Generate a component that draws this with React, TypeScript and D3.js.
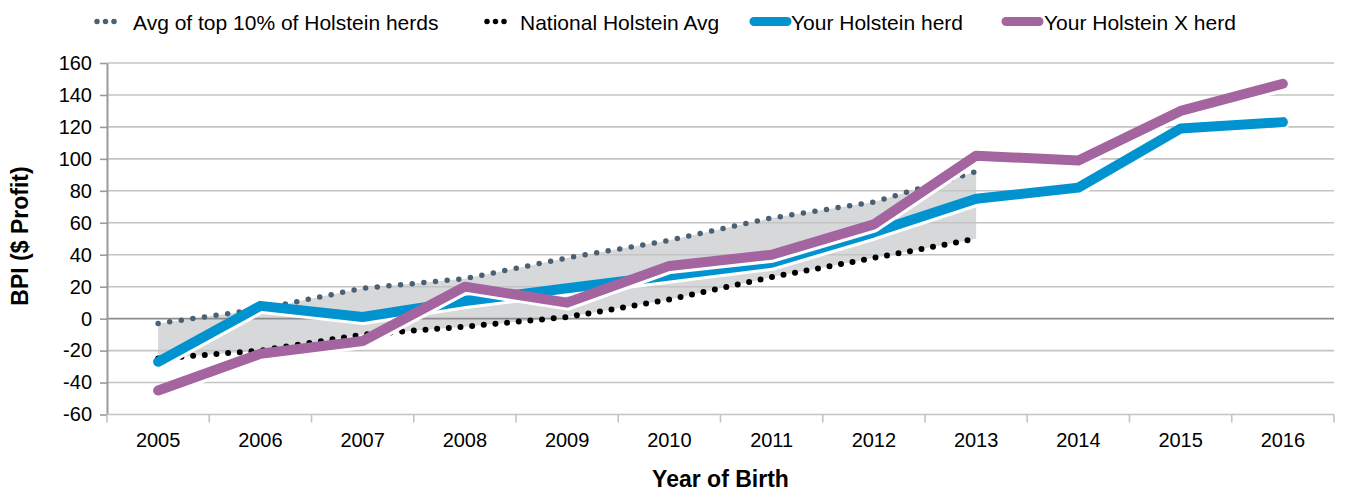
import React, { useEffect, useRef } from 'react';
import * as d3 from 'd3';

const years = ['2005', '2006', '2007', '2008', '2009', '2010', '2011', '2012', '2013', '2014', '2015', '2016'];

// dotted averages only run to 2013
const top10Avg = [-3, 6, 19, 25, 38, 49, 63, 73, 92];
const nationalAvg = [-25, -20, -10, -5, 1, 12, 26, 38, 50];

const holsteinHerd = [-27, 8, 1, 11, 19, 27, 35, 54, 75, 82, 119, 123];
const holsteinXHerd = [-45, -22, -14, 20, 10, 33, 40, 59, 102, 99, 130, 147];

const yTicks = [-60, -40, -20, 0, 20, 40, 60, 80, 100, 120, 140, 160];

const legendItems = [
  { label: 'Avg of top 10% of Holstein herds', color: '#4a6074', kind: 'dots' },
  { label: 'National Holstein Avg', color: '#000000', kind: 'dots' },
  { label: 'Your Holstein herd', color: '#0093cf', kind: 'line' },
  { label: 'Your Holstein X herd', color: '#a4649f', kind: 'line' },
];

const FONT = "'Liberation Sans', Arial, Helvetica, sans-serif";

export default function App() {
  const svgRef = useRef<SVGSVGElement>(null);

  useEffect(() => {
    const svg = d3.select(svgRef.current);
    svg.selectAll('*').remove();

    // plot box in page pixels
    const left = 107;
    const right = 1334;
    const top = 63;
    const bottom = 414.5;

    const x = d3.scaleBand().domain(years).range([left, right]);
    const y = d3.scaleLinear().domain([-60, 160]).range([bottom, top]);
    const cx = (yr: string) => (x(yr) as number) + x.bandwidth() / 2;

    // grey band between the two averages
    const band = top10Avg.map((v, i) => ({ yr: years[i], hi: v, lo: nationalAvg[i] }));
    svg
      .append('path')
      .datum(band)
      .attr(
        'd',
        d3
          .area<any>()
          .x((d) => cx(d.yr))
          .y0((d) => y(d.lo))
          .y1((d) => y(d.hi)),
      )
      .attr('fill', '#d7d8da');

    // horizontal gridlines
    svg
      .append('g')
      .selectAll('line')
      .data(yTicks.filter((t) => t !== -60))
      .enter()
      .append('line')
      .attr('x1', left)
      .attr('x2', right)
      .attr('y1', (d) => y(d))
      .attr('y2', (d) => y(d))
      .attr('stroke', (d) => (d === 0 ? '#8c8c8c' : '#c4c4c4'))
      .attr('stroke-width', 1.6);

    // y axis
    const yAxis = svg
      .append('g')
      .attr('transform', `translate(${left},0)`)
      .call(
        d3
          .axisLeft(y)
          .tickValues(yTicks)
          .tickSize(7)
          .tickPadding(8)
          .tickSizeOuter(0)
          .tickFormat((d) => String(d)),
      );
    yAxis.select('.domain').attr('stroke', '#9a9a9a').attr('stroke-width', 2);
    yAxis.selectAll('.tick line').attr('stroke', '#9a9a9a').attr('stroke-width', 1.6);
    yAxis
      .selectAll('text')
      .style('font-family', FONT)
      .style('font-size', '20px')
      .attr('fill', '#000');

    // x axis: labels centred in bands, ticks at band edges
    const xAxis = svg
      .append('g')
      .attr('transform', `translate(0,${bottom})`)
      .call(d3.axisBottom(x).tickSize(0).tickPadding(18));
    xAxis.select('.domain').remove();
    xAxis
      .selectAll('text')
      .style('font-family', FONT)
      .style('font-size', '20px')
      .attr('fill', '#000');

    svg
      .append('line')
      .attr('x1', left)
      .attr('x2', right)
      .attr('y1', bottom)
      .attr('y2', bottom)
      .attr('stroke', '#c4c4c4')
      .attr('stroke-width', 1.6);

    const edges = years.map((yr) => x(yr) as number).concat([right]);
    svg
      .append('g')
      .selectAll('line')
      .data(edges)
      .enter()
      .append('line')
      .attr('x1', (d) => d)
      .attr('x2', (d) => d)
      .attr('y1', bottom)
      .attr('y2', bottom + 8)
      .attr('stroke', '#c4c4c4')
      .attr('stroke-width', 1.6);

    const lineGen = d3
      .line<any>()
      .x((d) => cx(d.yr))
      .y((d) => y(d.v));

    const toPts = (vals: number[]) => vals.map((v, i) => ({ yr: years[i], v }));

    // dotted average lines
    svg
      .append('path')
      .datum(toPts(top10Avg))
      .attr('d', lineGen)
      .attr('fill', 'none')
      .attr('stroke', '#4a6074')
      .attr('stroke-width', 5.5)
      .attr('stroke-linecap', 'round')
      .attr('stroke-dasharray', '0 11.7');

    svg
      .append('path')
      .datum(toPts(nationalAvg))
      .attr('d', lineGen)
      .attr('fill', 'none')
      .attr('stroke', '#000')
      .attr('stroke-width', 6)
      .attr('stroke-linecap', 'round')
      .attr('stroke-dasharray', '0 11.7');

    // herd lines with a white shadow underneath
    [
      { vals: holsteinHerd, color: '#0093cf' },
      { vals: holsteinXHerd, color: '#a4649f' },
    ].forEach((s) => {
      svg
        .append('path')
        .datum(toPts(s.vals))
        .attr('d', lineGen)
        .attr('transform', 'translate(1,3)')
        .attr('fill', 'none')
        .attr('stroke', '#ffffff')
        .attr('stroke-width', 10)
        .attr('stroke-linejoin', 'round')
        .attr('stroke-linecap', 'round');
      svg
        .append('path')
        .datum(toPts(s.vals))
        .attr('d', lineGen)
        .attr('fill', 'none')
        .attr('stroke', s.color)
        .attr('stroke-width', 10)
        .attr('stroke-linejoin', 'round')
        .attr('stroke-linecap', 'round');
    });

    // axis titles
    svg
      .append('text')
      .attr('transform', 'translate(28,236) rotate(-90)')
      .attr('text-anchor', 'middle')
      .style('font-family', FONT)
      .style('font-size', '23px')
      .style('font-weight', 'bold')
      .text('BPI ($ Profit)');

    svg
      .append('text')
      .attr('x', (left + right) / 2)
      .attr('y', 487)
      .attr('text-anchor', 'middle')
      .style('font-family', FONT)
      .style('font-size', '23px')
      .style('font-weight', 'bold')
      .text('Year of Birth');

    // legend
    const legendX = [
      { sx1: 97, sx2: 114.5, tx: 133 },
      { sx1: 487, sx2: 504.5, tx: 520 },
      { sx1: 754, sx2: 787, tx: 791 },
      { sx1: 1006, sx2: 1039, tx: 1044 },
    ];
    const lg = svg
      .append('g')
      .selectAll('g')
      .data(legendItems)
      .enter()
      .append('g');

    lg.append('line')
      .attr('x1', (d, i) => legendX[i].sx1)
      .attr('x2', (d, i) => legendX[i].sx2)
      .attr('y1', 21.5)
      .attr('y2', 21.5)
      .attr('stroke', (d) => d.color)
      .attr('stroke-width', (d) => (d.kind === 'dots' ? 5.5 : 9))
      .attr('stroke-linecap', 'round')
      .attr('stroke-dasharray', (d) => (d.kind === 'dots' ? '0 8.5' : null));

    lg.append('text')
      .attr('x', (d, i) => legendX[i].tx)
      .attr('y', 30)
      .style('font-family', FONT)
      .style('font-size', '21px')
      .attr('fill', '#000')
      .text((d) => d.label);
  }, []);

  return (
    <svg
      ref={svgRef}
      width={1345}
      height={492}
      style={{ position: 'absolute', left: 0, top: 0, background: '#fff' }}
    />
  );
}
